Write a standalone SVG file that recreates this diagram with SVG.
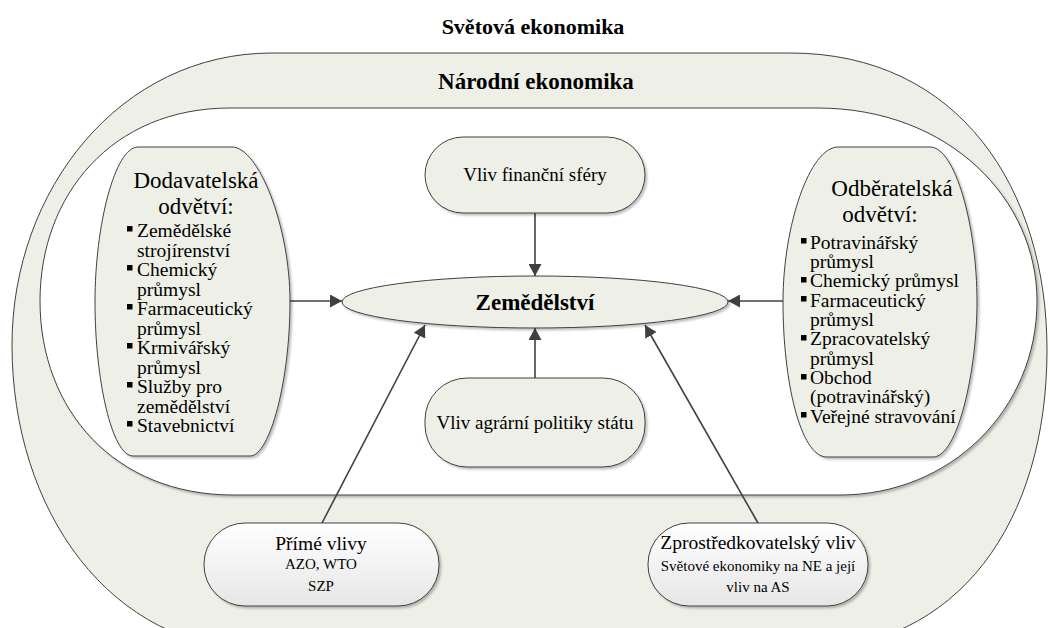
<svg xmlns="http://www.w3.org/2000/svg" width="1050" height="628" viewBox="0 0 1050 628">
  <defs>
    <style>
      .band { fill: #EEF0E7; stroke: #404040; stroke-width: 1; }
      .inner { fill: #FFFFFF; stroke: #404040; stroke-width: 1; filter: url(#shadow); }
      .node { fill: #EEF0E7; stroke: #404040; stroke-width: 1; filter: url(#shadow); }
      .pill { fill: url(#pillFill); stroke: #404040; stroke-width: 1; filter: url(#shadow); }
      .conn { stroke: #404040; stroke-width: 1.6; fill: none; marker-end: url(#arrow); }
      text { font-family: "Liberation Serif", "Times New Roman", serif; fill: #000; }
      .title { font-size: 22px; font-weight: bold; text-anchor: middle; }
      .head { font-size: 23px; }
      .item { font-size: 19.5px; }
      .label { font-size: 19px; text-anchor: middle; }
      .small { font-size: 15px; text-anchor: middle; }
      .bullet { fill: #000; }
    </style>
    <filter id="shadow" x="-10%" y="-10%" width="125%" height="125%">
      <feDropShadow dx="2" dy="2" stdDeviation="1.2" flood-color="#000" flood-opacity="0.25"/>
    </filter>
    <linearGradient id="pillFill" x1="0" y1="0" x2="0" y2="1">
      <stop offset="0" stop-color="#FFFFFF"/>
      <stop offset="1" stop-color="#E6E6E6"/>
    </linearGradient>
    <marker id="arrow" viewBox="0 0 12 13" markerWidth="12" markerHeight="13" refX="12" refY="6.5" orient="auto" markerUnits="userSpaceOnUse">
      <path d="M0,0 L12,6.5 L0,13 Z" fill="#404040"/>
    </marker>
  </defs>

  <!-- world economy caption -->
  <text class="title" x="533" y="34">Světová ekonomika</text>

  <!-- national economy band -->
  <g id="narodni-ekonomika">
    <path class="band" d="M272,53 H790 C960,53 1047,190 1047,350 C1047,520 960,650 800,650 H262 C110,650 12,510 12,345 C12,190 120,53 272,53 Z"/>
    <path class="inner" d="M230,108 H817 C950,108 1037,200 1037,301 C1037,410 950,495 840,495 H233 C115,495 40,410 40,301 C40,195 112,108 230,108 Z"/>
    <text class="title" x="536" y="89" style="font-size:23px">Národní ekonomika</text>
  </g>

  <!-- connectors -->
  <g id="connectors">
    <line class="conn" x1="290" y1="301" x2="342" y2="301"/>
    <line class="conn" x1="783" y1="301" x2="728" y2="301"/>
    <line class="conn" x1="535" y1="213" x2="535" y2="276"/>
    <line class="conn" x1="535" y1="378" x2="535" y2="328"/>
    <line class="conn" x1="322" y1="523" x2="425" y2="325"/>
    <line class="conn" x1="758" y1="523" x2="645" y2="325"/>
  </g>

  <!-- supplier sectors -->
  <g id="dodavatelska">
    <path class="node" d="M138,147 H232 C258,147 290,225 290,302 C290,380 270,456 250,456 H133 C112,456 95,380 95,302 C95,225 115,147 138,147 Z"/>
    <text class="head" x="196" y="188" text-anchor="middle">Dodavatelská</text>
    <text class="head" x="196" y="214" text-anchor="middle">odvětví:</text>
    <rect class="bullet" x="127" y="226" width="5.5" height="5.5"/>
    <rect class="bullet" x="127" y="265" width="5.5" height="5.5"/>
    <rect class="bullet" x="127" y="304" width="5.5" height="5.5"/>
    <rect class="bullet" x="127" y="343" width="5.5" height="5.5"/>
    <rect class="bullet" x="127" y="382" width="5.5" height="5.5"/>
    <rect class="bullet" x="127" y="421" width="5.5" height="5.5"/>
    <text class="item" x="137" y="237">Zemědělské</text>
    <text class="item" x="137" y="256.5">strojírenství</text>
    <text class="item" x="137" y="276">Chemický</text>
    <text class="item" x="137" y="295.5">průmysl</text>
    <text class="item" x="137" y="315">Farmaceutický</text>
    <text class="item" x="137" y="334.5">průmysl</text>
    <text class="item" x="137" y="354">Krmivářský</text>
    <text class="item" x="137" y="373.5">průmysl</text>
    <text class="item" x="137" y="393">Služby pro</text>
    <text class="item" x="137" y="412.5">zemědělství</text>
    <text class="item" x="137" y="432">Stavebnictví</text>
  </g>

  <!-- customer sectors -->
  <g id="odberatelska">
    <path class="node" d="M838,147 H930 C955,147 977,225 977,302 C977,370 958,457 933,457 H827 C800,457 783,380 783,302 C783,225 810,147 838,147 Z"/>
    <text class="head" x="892" y="196" text-anchor="middle">Odběratelská</text>
    <text class="head" x="880" y="222" text-anchor="middle">odvětví:</text>
    <rect class="bullet" x="801" y="238" width="5.5" height="5.5"/>
    <rect class="bullet" x="801" y="277" width="5.5" height="5.5"/>
    <rect class="bullet" x="801" y="296" width="5.5" height="5.5"/>
    <rect class="bullet" x="801" y="335" width="5.5" height="5.5"/>
    <rect class="bullet" x="801" y="374" width="5.5" height="5.5"/>
    <rect class="bullet" x="801" y="412" width="5.5" height="5.5"/>
    <text class="item" x="810" y="248.5">Potravinářský</text>
    <text class="item" x="810" y="268">průmysl</text>
    <text class="item" x="810" y="287">Chemický průmysl</text>
    <text class="item" x="810" y="306.5">Farmaceutický</text>
    <text class="item" x="810" y="326">průmysl</text>
    <text class="item" x="810" y="345">Zpracovatelský</text>
    <text class="item" x="810" y="364.5">průmysl</text>
    <text class="item" x="810" y="384">Obchod</text>
    <text class="item" x="810" y="403">(potravinářský)</text>
    <text class="item" x="810" y="422.5">Veřejné stravování</text>
  </g>

  <!-- financial sphere -->
  <g id="financni-sfera">
    <rect class="node" x="425" y="137" width="220" height="76" rx="38" ry="38"/>
    <text class="label" x="535" y="181">Vliv finanční sféry</text>
  </g>

  <!-- agriculture -->
  <g id="zemedelstvi">
    <ellipse class="node" cx="535" cy="302" rx="193" ry="26"/>
    <text class="title" x="535" y="310" style="font-size:23px">Zemědělství</text>
  </g>

  <!-- state agricultural policy -->
  <g id="agrarni-politika">
    <rect class="node" x="425" y="378" width="220" height="89" rx="42" ry="42"/>
    <text class="label" x="535" y="429">Vliv agrární politiky státu</text>
  </g>

  <!-- direct influences -->
  <g id="prime-vlivy">
    <rect class="pill" x="204" y="523" width="235" height="83" rx="41" ry="41"/>
    <text class="label" x="321" y="550" style="font-size:19.5px">Přímé vlivy</text>
    <text class="small" x="321" y="569">AZO, WTO</text>
    <text class="small" x="321" y="591">SZP</text>
  </g>

  <!-- mediated influence -->
  <g id="zprostredkovatelsky-vliv">
    <rect class="pill" x="648" y="523" width="220" height="83" rx="41" ry="41"/>
    <text class="label" x="758" y="549" style="font-size:19.5px">Zprostředkovatelský vliv</text>
    <text class="small" x="758" y="571">Světové ekonomiky na NE a její</text>
    <text class="small" x="758" y="592">vliv na AS</text>
  </g>
</svg>
